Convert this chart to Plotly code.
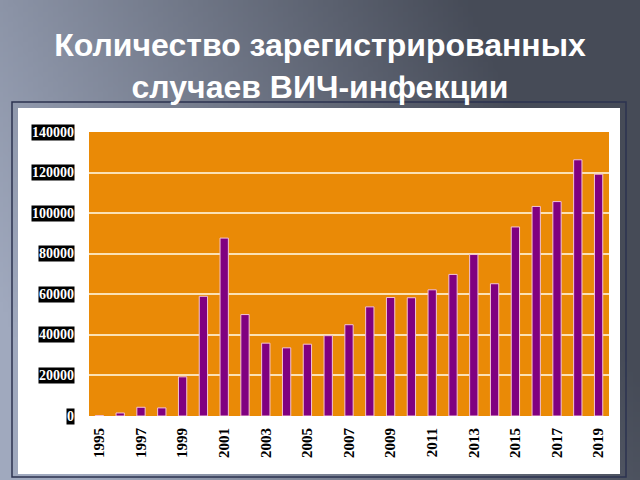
import base64
import struct
import zlib

import numpy as np
import plotly.graph_objects as go

# ---- data ----
years = [str(y) for y in range(1995, 2020)]
cases = [200, 1500, 4300, 4000, 19300, 59000, 87700, 50000, 35900, 33600,
         35400, 39600, 45000, 53800, 58400, 58300, 62200, 69800, 79600, 65200,
         93200, 103300, 105700, 126300, 119200]
x_tick_labels = ["1995", "1997", "1999", "2001", "2003", "2005", "2007",
                 "2009", "2011", "2013", "2015", "2017", "2019"]
y_tick_values = [0, 20000, 40000, 60000, 80000, 100000, 120000, 140000]
y_tick_labels = ["0", "20000", "40000", "60000", "80000", "100000", "120000", "140000"]
title_text = "Количество зарегистрированных<br>случаев ВИЧ-инфекции"

# ---- layout geometry (pixels) ----
W, H = 640, 480
L, R, T, B = 89, 31, 132, 64
PW, PH = W - L - R, H - T - B


def px(x):
    return (x - L) / PW


def py(y):
    return (H - B - y) / PH


# ---- background gradient image ----
def gradient_png(w=128, h=96):
    xs = np.linspace(0, 1, w)[None, :]
    ys = np.linspace(0, 1, h)[:, None]
    s = np.clip(xs * 1.05 - ys * 0.35 + 0.22, 0, 1)
    light = np.array([160, 169, 190], float)
    dark = np.array([70, 75, 87], float)
    img = (light[None, None, :] * (1 - s[..., None]) + dark[None, None, :] * s[..., None])
    img = img.astype(np.uint8)
    raw = b"".join(b"\x00" + img[r].tobytes() for r in range(h))

    def chunk(tag, data):
        return (struct.pack(">I", len(data)) + tag + data
                + struct.pack(">I", zlib.crc32(tag + data) & 0xFFFFFFFF))

    png = (b"\x89PNG\r\n\x1a\n"
           + chunk(b"IHDR", struct.pack(">IIBBBBB", w, h, 8, 2, 0, 0, 0))
           + chunk(b"IDAT", zlib.compress(raw))
           + chunk(b"IEND", b""))
    return "data:image/png;base64," + base64.b64encode(png).decode()


fig = go.Figure()
fig.add_trace(go.Bar(
    x=[int(y) for y in years], y=cases, width=0.4,
    marker=dict(color="#800080", line=dict(color="#f3c4d4", width=1)),
    hoverinfo="x+y",
))

shapes = [
    # outer frame
    dict(type="rect", xref="paper", yref="paper", x0=px(12), x1=px(626), y0=py(477), y1=py(102),
         line=dict(color="#2c3350", width=1.5), fillcolor="rgba(0,0,0,0)", layer="below"),
    # white panel
    dict(type="rect", xref="paper", yref="paper", x0=px(18), x1=px(620), y0=py(474), y1=py(108),
         line=dict(width=0), fillcolor="white", layer="below"),
    # orange plot area
    dict(type="rect", xref="paper", yref="paper", x0=0, x1=1, y0=0, y1=1,
         line=dict(width=0), fillcolor="#ea8a06", layer="below"),
]

annotations = []
for v, t in zip(y_tick_values, y_tick_labels):
    annotations.append(dict(
        x=0, xref="paper", y=v, yref="y", text=t, showarrow=False,
        xanchor="right", yanchor="middle", xshift=-14,
        font=dict(family="Liberation Serif", size=14, color="white", weight="bold"),
        bgcolor="black", borderpad=0,
    ))

fig.update_layout(
    width=W, height=H,
    margin=dict(l=L, r=R, t=T, b=B),
    paper_bgcolor="#5d6472",
    plot_bgcolor="#ea8a06",
    showlegend=False,
    bargap=0.6,
    title=dict(text=title_text, x=0.5, xref="container", xanchor="center",
               y=1 - 56 / H, yref="container", yanchor="middle",
               font=dict(family="Liberation Sans", size=32, color="white", weight="bold")),
    images=[dict(source=gradient_png(), xref="paper", yref="paper",
                 x=px(0), y=py(0), sizex=W / PW, sizey=H / PH,
                 xanchor="left", yanchor="top", sizing="stretch", layer="below")],
    shapes=shapes,
    annotations=annotations,
    xaxis=dict(
        range=[1994.5, 2019.5],
        tickmode="array",
        tickvals=[int(t) for t in x_tick_labels],
        ticktext=x_tick_labels,
        tickangle=-90,
        ticklabelstandoff=8,
        tickfont=dict(family="Liberation Serif", size=15, color="black", weight="bold"),
        showgrid=False, zeroline=False, showline=False, ticks="",
    ),
    yaxis=dict(
        range=[0, 140000],
        tickmode="array",
        tickvals=y_tick_values,
        showticklabels=False,
        showgrid=True, gridcolor="#fbe1b4", gridwidth=1.5,
        zeroline=False, showline=False, ticks="",
    ),
)

fig.write_html("out.html", config={"displayModeBar": False},
               post_script="document.body.style.margin='0';document.body.style.overflow='hidden';")
